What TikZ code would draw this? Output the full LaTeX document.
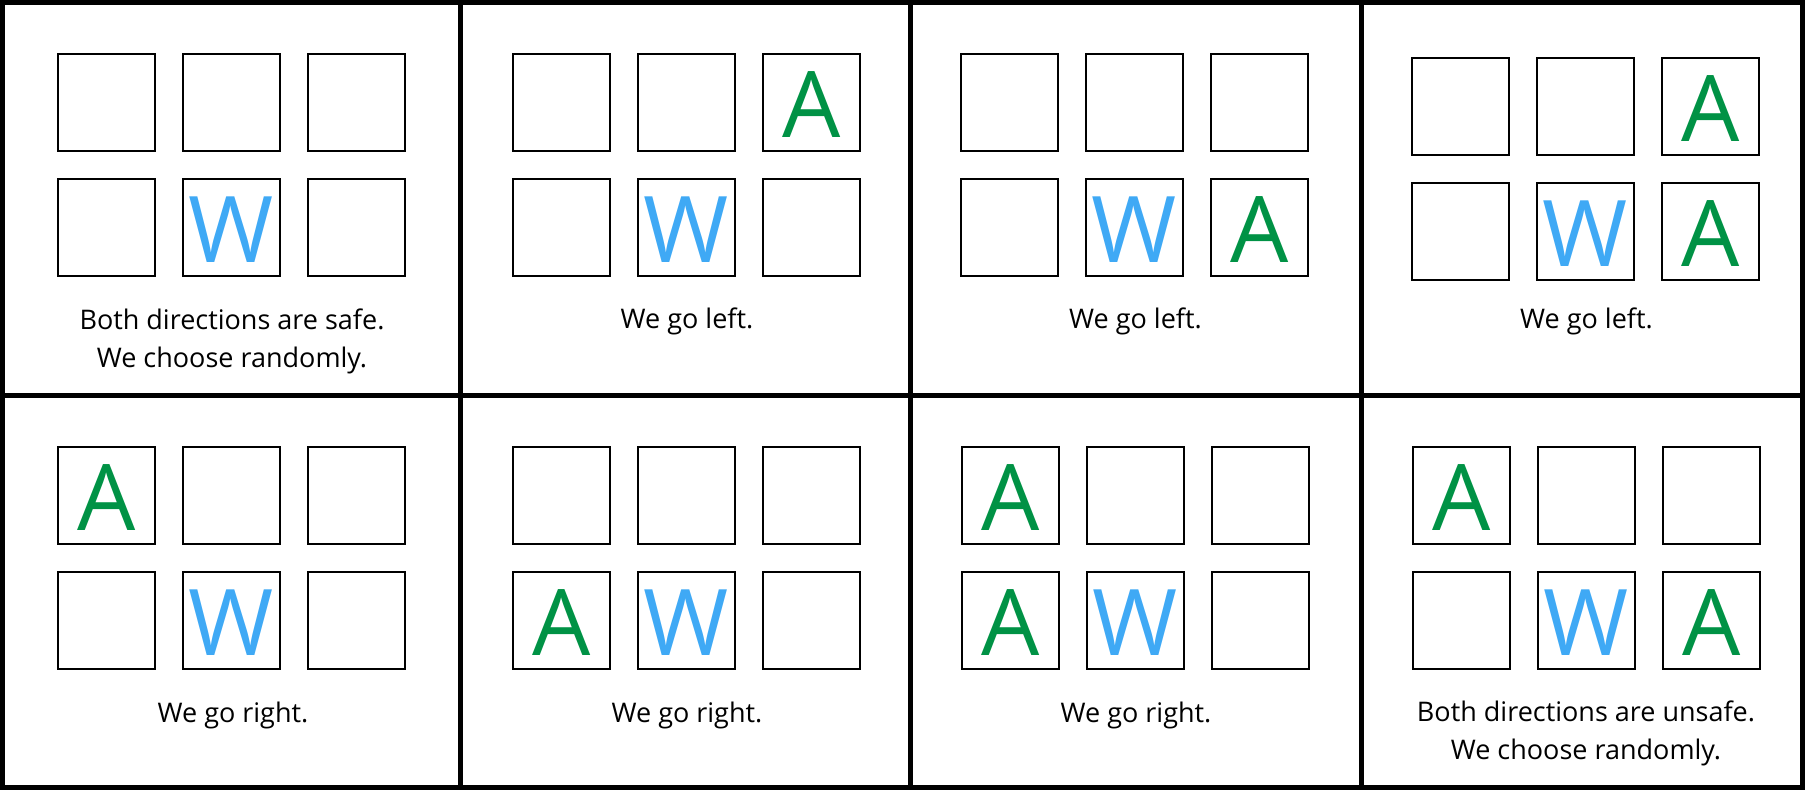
\documentclass[tikz,border=0pt]{standalone}
\usepackage{fontspec}
\setmainfont{Open Sans}
\usetikzlibrary{positioning}
\definecolor{wblue}{HTML}{3FA9F5}
\definecolor{agreen}{HTML}{009245}
\tikzset{
	frame/.style={line width=5pt},
	cell/.style={draw, line width=2pt, minimum size=97pt, inner sep=0pt},
	wletter/.style={text=wblue, font=\fontsize{92}{92}\selectfont, inner sep=0pt, yshift=-2pt},
	aletter/.style={text=agreen, font=\fontsize{92}{92}\selectfont, inner sep=0pt, yshift=-2pt},
	caption/.style={font=\fontsize{27}{38}\selectfont, align=center, anchor=base, inner sep=0pt}
}

\begin{document}
\begin{tikzpicture}[x=1pt, y=-1pt]
	\useasboundingbox (0,0) rectangle (1805,790);
	% panel frame
	\draw[frame] (2.5,2.5) rectangle (1802.5,787.5);
	\draw[frame] (2.5,395) -- (1802.5,395);
	\foreach \x in {460.5,910,1361}
		\draw[frame] (\x,2.5) -- (\x,787.5);
	% cells of every panel
	\foreach \p/\x/\y in {1/57/53, 2/512/53, 3/960/53, 4/1411/57,
	                      5/57/446, 6/512/446, 7/961/446, 8/1412/446}
		\foreach \c/\i/\j in {1/0/0, 2/1/0, 3/2/0, 4/0/1, 5/1/1, 6/2/1}
			\node[cell] (p\p-\c) at ({\x+49.5+125*\i},{\y+49.5+125*\j}) {};
	% W and A letters
	\node[wletter] (w1) at (p1-5) {W};
	\node[wletter] (w2) at (p2-5) {W};
	\node[aletter] (a2) at (p2-3) {A};
	\node[wletter] (w3) at (p3-5) {W};
	\node[aletter] (a3) at (p3-6) {A};
	\node[wletter] (w4) at (p4-5) {W};
	\node[aletter] (a4a) at (p4-3) {A};
	\node[aletter] (a4b) at (p4-6) {A};
	\node[wletter] (w5) at (p5-5) {W};
	\node[aletter] (a5) at (p5-1) {A};
	\node[wletter] (w6) at (p6-5) {W};
	\node[aletter] (a6) at (p6-4) {A};
	\node[wletter] (w7) at (p7-5) {W};
	\node[aletter] (a7a) at (p7-1) {A};
	\node[aletter] (a7b) at (p7-4) {A};
	\node[wletter] (w8) at (p8-5) {W};
	\node[aletter] (a8a) at (p8-1) {A};
	\node[aletter] (a8b) at (p8-6) {A};
	% captions (base is the last line)
	\node[caption] (t1) at (232,367) {Both directions are safe.\\We choose randomly.};
	\node[caption] (t2) at (687,328) {We go left.};
	\node[caption] (t3) at (1135.5,328) {We go left.};
	\node[caption] (t4) at (1586.5,328) {We go left.};
	\node[caption] (t5) at (233,722) {We go right.};
	\node[caption] (t6) at (687,722) {We go right.};
	\node[caption] (t7) at (1136,722) {We go right.};
	\node[caption] (t8) at (1586,759) {Both directions are unsafe.\\We choose randomly.};
\end{tikzpicture}
\end{document}
